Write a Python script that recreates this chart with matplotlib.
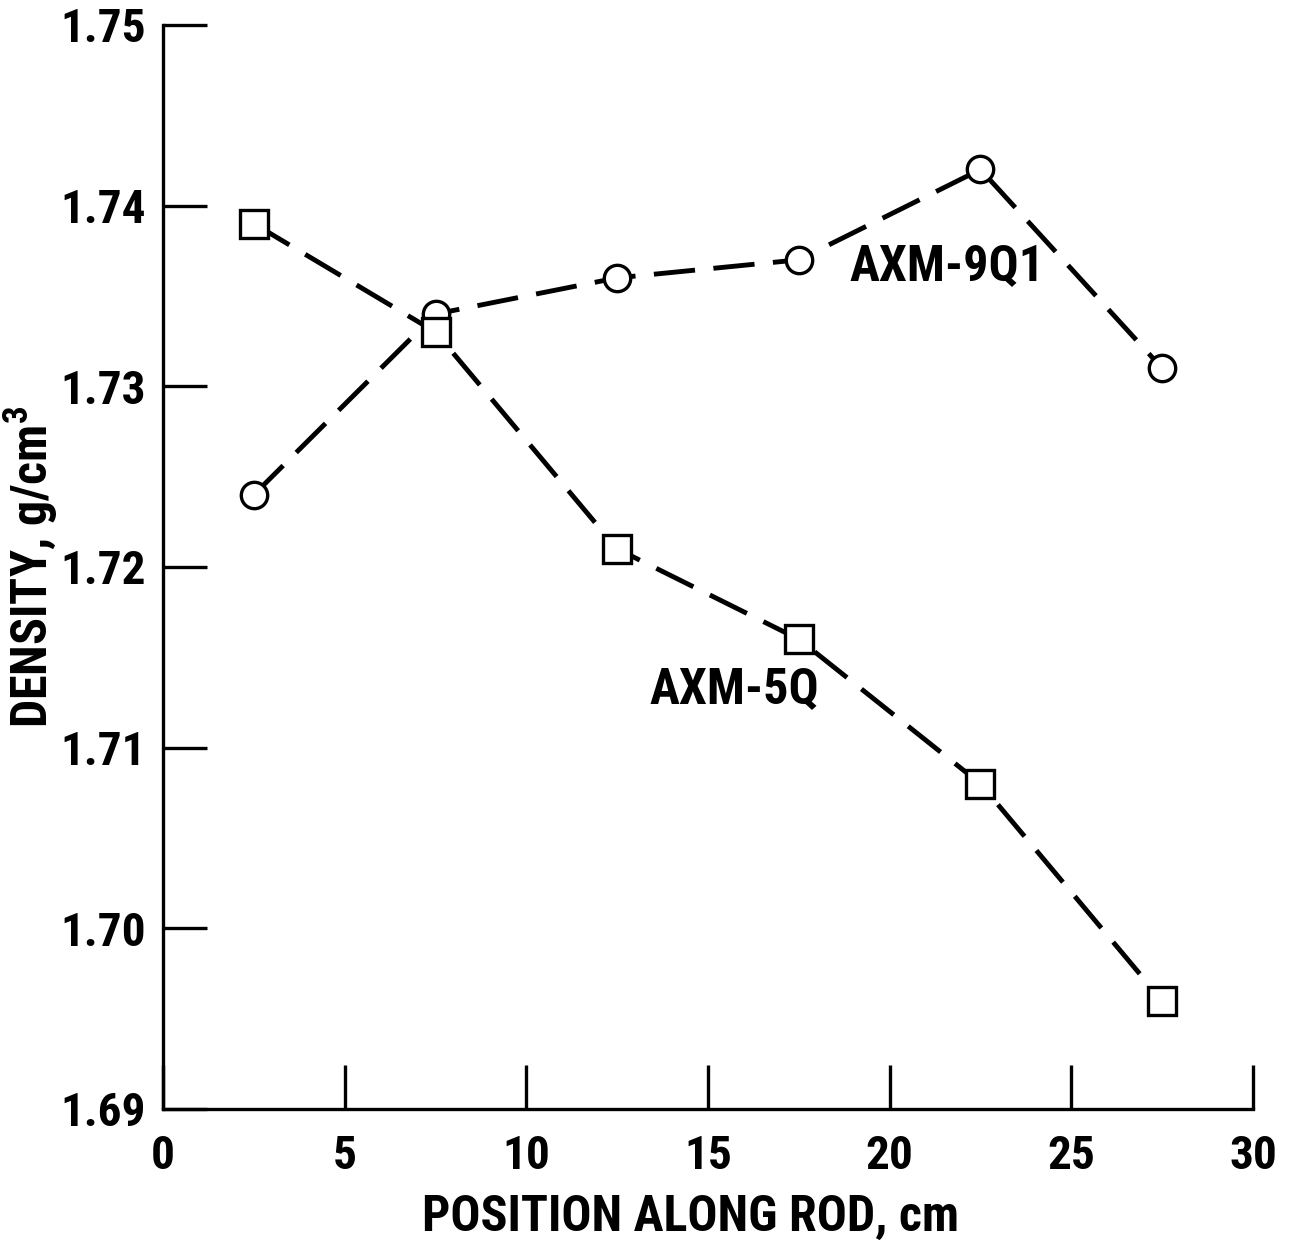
import matplotlib
matplotlib.use("Agg")
import matplotlib.pyplot as plt
from matplotlib import font_manager

names = {f.name for f in font_manager.fontManager.ttflist}
cond = [f.name for f in font_manager.fontManager.ttflist
        if ('Narrow' in f.name or 'Condensed' in f.name or
            (isinstance(f.stretch, str) and 'condensed' in f.stretch))]
prefs = ['Liberation Sans Narrow', 'Roboto Condensed'] + cond + ['Roboto', 'DejaVu Sans']
fam = next(p for p in prefs if p in names)
plt.rcParams['font.family'] = [fam, 'DejaVu Sans']
plt.rcParams['font.weight'] = 'bold'
plt.rcParams['mathtext.fontset'] = 'custom'
plt.rcParams['mathtext.bf'] = fam + ':bold'
plt.rcParams['mathtext.rm'] = fam + ':bold'

position = [2.5, 7.5, 12.5, 17.5, 22.5, 27.5]
axm_9q1 = [1.724, 1.734, 1.736, 1.737, 1.742, 1.731]
axm_5q = [1.739, 1.733, 1.721, 1.716, 1.708, 1.696]
xticks = [0, 5, 10, 15, 20, 25, 30]
yticks = [1.69, 1.70, 1.71, 1.72, 1.73, 1.74, 1.75]
ytick_labels = ['1.69', '1.70', '1.71', '1.72', '1.73', '1.74', '1.75']

FS_TICK = 34
FS_LABEL = 36
FS_NOTE = 36

fig = plt.figure(figsize=(12.98, 12.41), dpi=100)
ax = fig.add_axes([0.1256, 0.1064, 0.8397, 0.8735])

line_kw = dict(color='black', lw=3.5, dashes=(8.5, 3.8),
               markerfacecolor='white', markeredgecolor='black', markeredgewidth=2.4)
ax.plot(position, axm_9q1, marker='o', markersize=19, **line_kw)
ax.plot(position, axm_5q, marker='s', markersize=19.5, **line_kw)

ax.set_xlim(0, 30)
ax.set_ylim(1.69, 1.75)
ax.set_xticks(xticks)
ax.set_yticks(yticks)
ax.set_yticklabels(ytick_labels)
for s in ['top', 'right']:
    ax.spines[s].set_visible(False)
for s in ['left', 'bottom']:
    ax.spines[s].set_linewidth(2.4)
ax.tick_params(direction='in', length=32, width=2.4, labelsize=FS_TICK, pad=18)
ax.tick_params(axis='y', pad=12)

ax.set_xlabel('POSITION ALONG ROD, cm', fontsize=FS_LABEL, fontweight='bold', va='center')
ax.xaxis.set_label_coords(0.4835, -0.100)
ax.set_ylabel('DENSITY, g/cm$^{3}$', fontsize=FS_LABEL, fontweight='bold', va='center')
ax.yaxis.set_label_coords(-0.121, 0.50)

ax.text(18.9, 1.7366, 'AXM-9Q1', fontsize=FS_NOTE, fontweight='bold', ha='left', va='center')
ax.text(13.4, 1.7132, 'AXM-5Q', fontsize=FS_NOTE, fontweight='bold', ha='left', va='center')

for lab in ax.get_xticklabels() + ax.get_yticklabels():
    lab.set_fontweight('bold')

fig.savefig('out.png', dpi=100, facecolor='white')
